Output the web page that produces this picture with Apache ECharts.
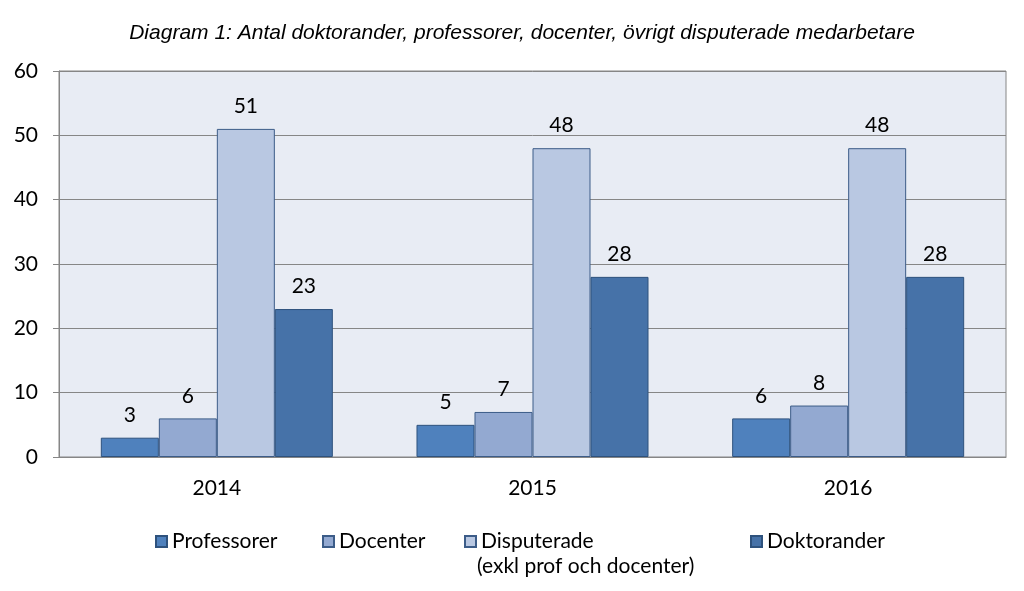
<!DOCTYPE html>
<html><head><meta charset="utf-8">
<script src="https://cdn.jsdelivr.net/npm/echarts@6/dist/echarts.min.js"></script>
<style>html,body{margin:0;padding:0;background:#fff}#c{width:1024px;height:591px}</style>
</head><body><div id="c"></div>
<script>
const categories = ['2014', '2015', '2016'];
const professorer = [3, 5, 6];
const docenter = [6, 7, 8];
const disputerade = [51, 48, 48];
const doktorander = [23, 28, 28];
const seriesNames = ['Professorer', 'Docenter', 'Disputerade', 'Doktorander'];
const yTicks = [0, 10, 20, 30, 40, 50, 60];

const font = 'Lato, "Open Sans", sans-serif';
const colors = ['#4F81BD', '#93A9D1', '#B9C8E2', '#4672A8'];
const borders = ['#2E527D', '#3C5C88', '#3C5C88', '#2E527D'];
const vals = [professorer, docenter, disputerade, doktorander];
const legendLefts = [150, 317, 459, 745];

const chart = echarts.init(document.getElementById('c'));
chart.setOption({
  animation: false,
  title: {
    text: 'Diagram 1: Antal doktorander, professorer, docenter, övrigt disputerade medarbetare',
    left: 517, top: 18, textAlign: 'center',
    textStyle: {fontFamily: '"Liberation Sans", Arial, sans-serif', fontStyle: 'italic', fontWeight: 'normal', fontSize: 21, color: '#000'}
  },
  grid: {left: 59, right: 18, top: 71, bottom: 134, show: true, backgroundColor: '#E8ECF4', borderColor: '#868686', borderWidth: 1},
  legend: seriesNames.map((n, i) => ({
    data: [n],
    left: legendLefts[i], top: 526, itemWidth: 11, itemHeight: 11,
    icon: 'rect',
    textStyle: {fontFamily: font, fontSize: 21, color: '#000'}
  })),
  graphic: [{
    type: 'text', left: 477, top: 556,
    style: {text: '(exkl prof och docenter)', font: '21px ' + font, fill: '#000'}
  }],
  xAxis: {
    type: 'category', data: categories,
    axisLine: {lineStyle: {color: '#868686'}},
    axisTick: {show: false},
    axisLabel: {fontFamily: font, fontSize: 21, color: '#000', margin: 21}
  },
  yAxis: {
    type: 'value', min: 0, max: 60, interval: 10,
    axisLine: {show: true, lineStyle: {color: '#868686'}},
    axisTick: {show: true, length: 6, lineStyle: {color: '#868686'}},
    splitLine: {lineStyle: {color: '#868686'}},
    axisLabel: {fontFamily: font, fontSize: 21, color: '#000', margin: 21,
      formatter: v => yTicks.includes(v) ? String(v) : ''}
  },
  series: seriesNames.map((n, i) => ({
    name: n, type: 'bar', data: vals[i],
    barGap: '0%', barCategoryGap: '26.5%',
    itemStyle: {color: colors[i], borderColor: borders[i], borderWidth: 1},
    label: {show: true, position: 'top', distance: 12, fontFamily: font, fontSize: 21, color: '#000'}
  }))
});
</script></body></html>
